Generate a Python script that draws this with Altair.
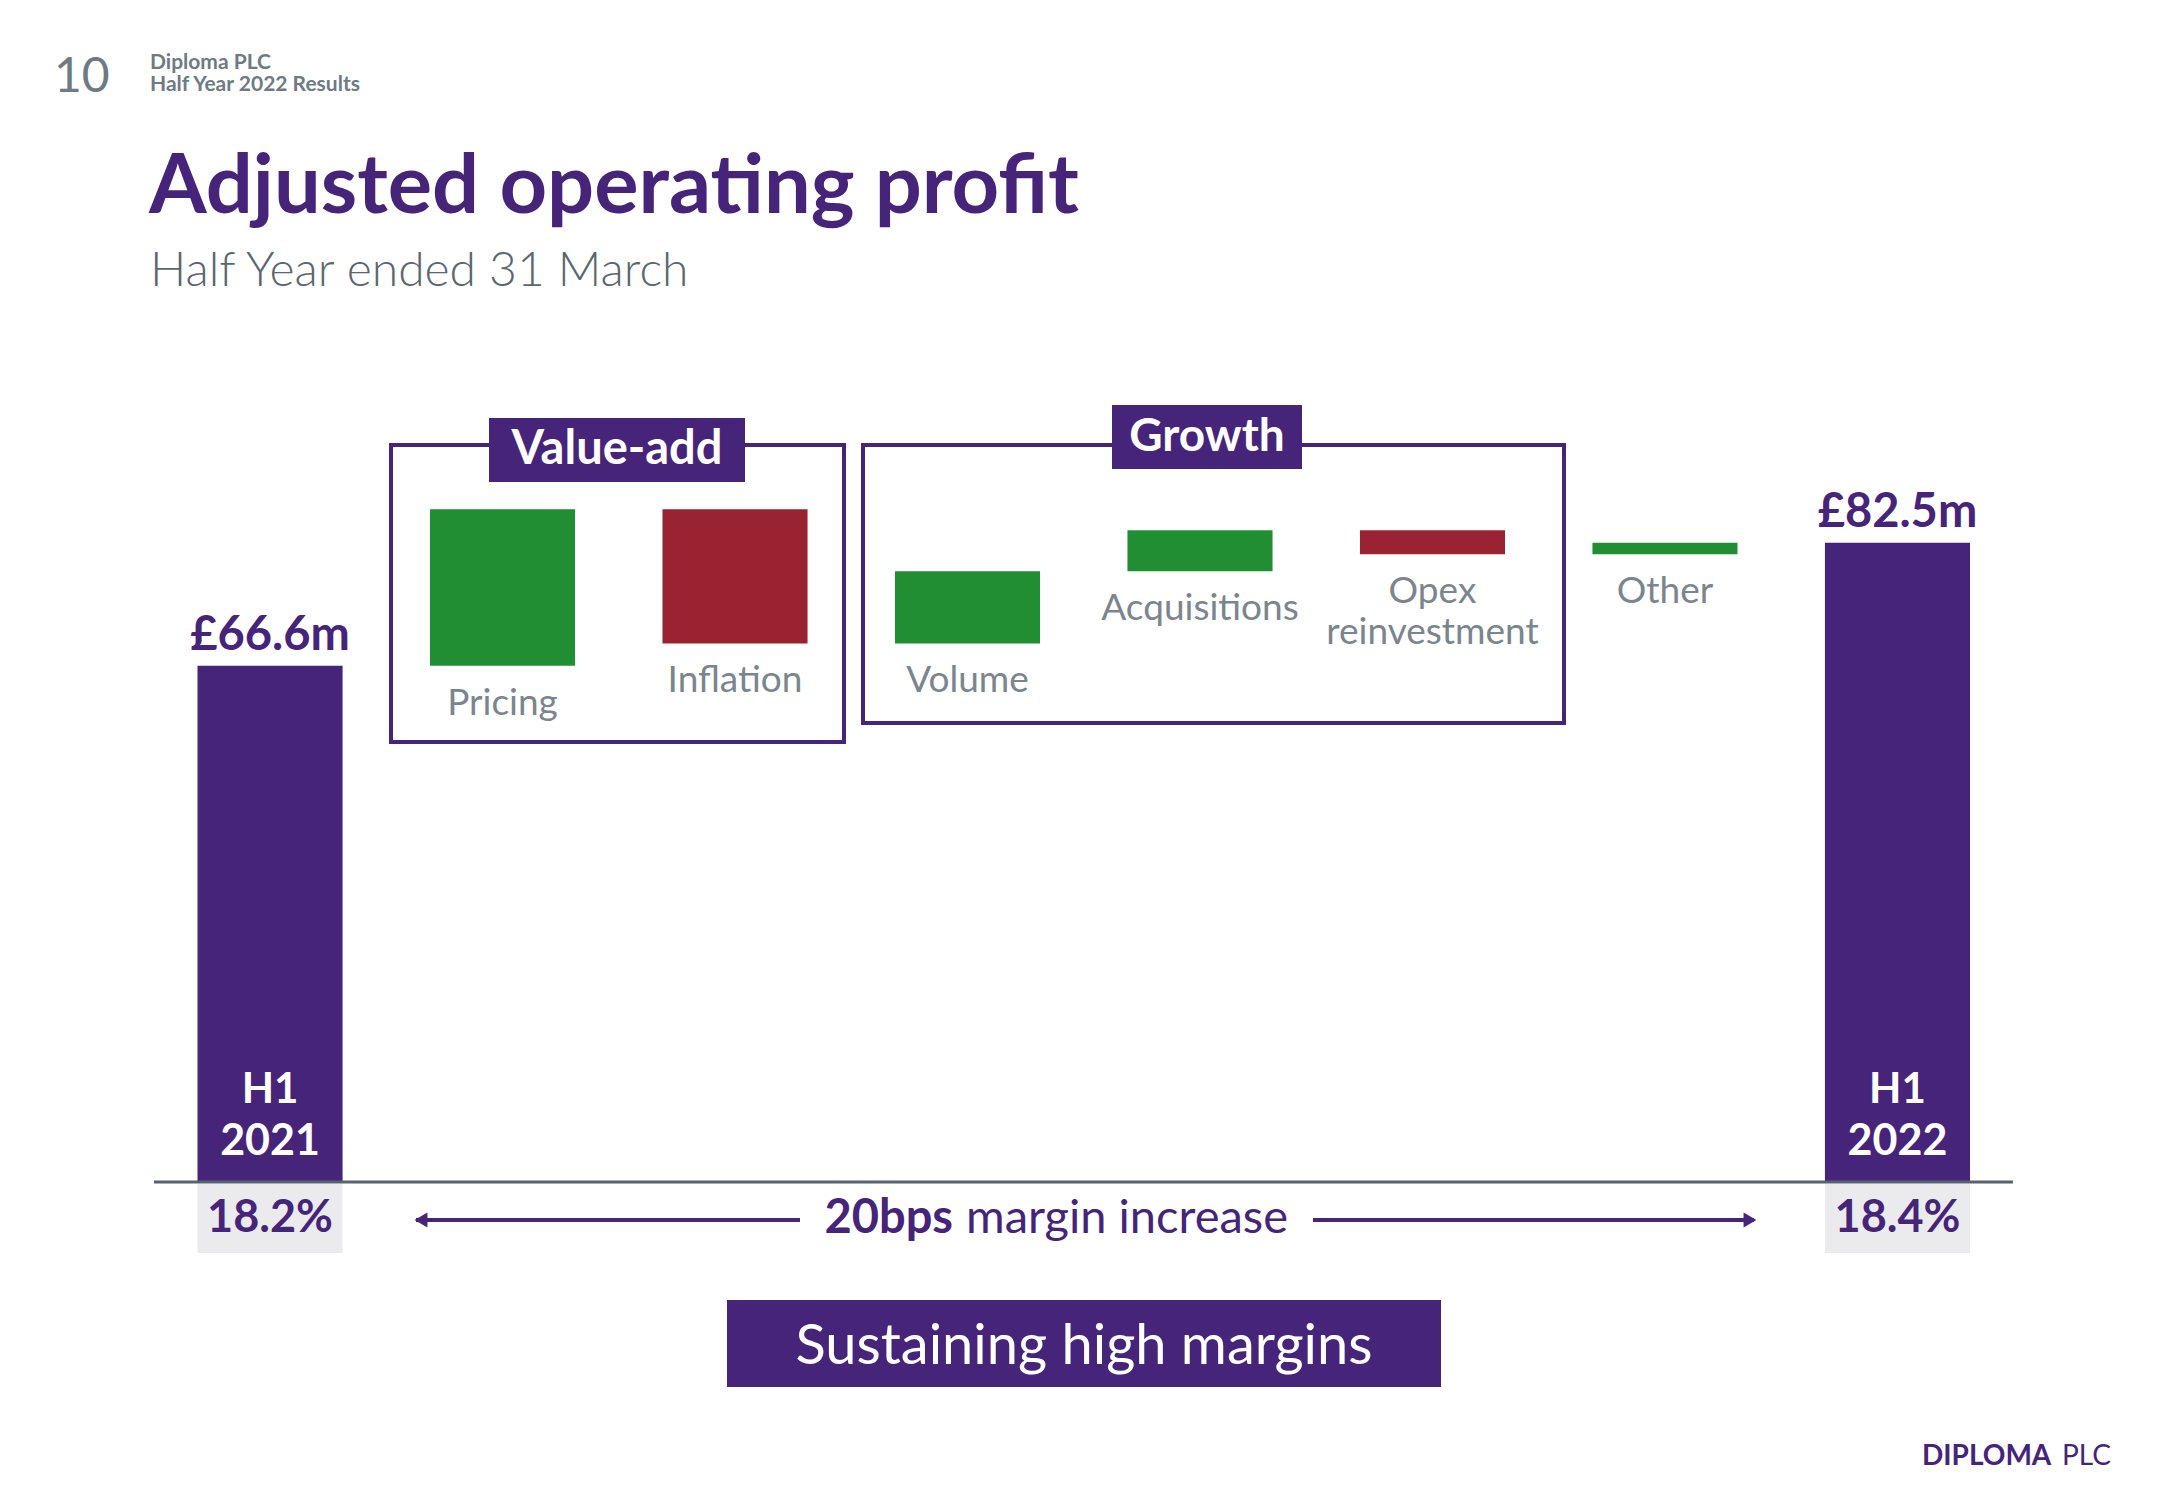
import altair as alt
import pandas as pd

PURPLE = "#45247A"
GREEN = "#228E33"
RED = "#9A2331"
GREY_TXT = "#7A858E"
HEAD_GREY = "#6E7A84"
FONT = "Lato"

# ---------------- data ----------------
steps = ["H1 2021", "Pricing", "Inflation", "Volume", "Acquisitions",
         "Opex reinvestment", "Other", "H1 2022"]
step_labels = ["Pricing", "Inflation", "Volume", "Acquisitions",
               "Opex\nreinvestment", "Other"]
opening = 66.6
changes = [20.2, -17.3, 9.3, 5.3, -3.1, 1.5]
closing = 82.5
total_labels = ["£66.6m", "£82.5m"]
period_h = ["H1", "H1"]
period_year = ["2021", "2022"]
margins = ["18.2%", "18.4%"]

rows = [dict(step=steps[0], start=0.0, end=opening, kind="total", label="")]
level = opening
for name, lab, d in zip(steps[1:-1], step_labels, changes):
    rows.append(dict(step=name, start=level, end=level + d,
                     kind="up" if d > 0 else "down", label=lab))
    level += d
rows.append(dict(step=steps[-1], start=0.0, end=closing, kind="total", label=""))
df = pd.DataFrame(rows)
df["low"] = df[["start", "end"]].min(axis=1)
delta_df = df[df["kind"] != "total"].copy()

tot_df = pd.DataFrame(dict(step=[steps[0], steps[-1]], value=[opening, closing],
                           label=total_labels, h=period_h, year=period_year,
                           margin=margins))

# ---------------- scales ----------------
xscale = alt.Scale(domain=steps, range=[197.5, 1970], paddingInner=0.376, paddingOuter=0)
yscale = alt.Scale(domain=[0, 100], range=[1182, 407], nice=False, zero=False)
X = alt.X("step:N", scale=xscale, axis=None)


def txt(text, x, y, size, color, weight="normal", align="left"):
    return alt.Chart(pd.DataFrame({"t": [text]})).mark_text(
        font=FONT, fontSize=size, color=color, fontWeight=weight,
        align=align, baseline="alphabetic"
    ).encode(text="t:N", x=alt.value(x), y=alt.value(y))


def box(x1, x2, y1, y2, filled, color=PURPLE, sw=4):
    return alt.Chart(pd.DataFrame({"a": [0]})).mark_rect(
        filled=filled, color=color, strokeWidth=sw
    ).encode(x=alt.value(x1), x2=alt.value(x2), y=alt.value(y1), y2=alt.value(y2))


# group boxes
grp_boxes = [
    box(391, 844, 445, 742, False),
    box(863, 1564, 445, 723, False),
    box(489, 745, 418, 482, True),
    box(1112, 1302, 405, 469, True),
    box(727, 1441, 1300, 1387, True),
]
grp_texts = [
    txt("Value-add", 617, 464, 47, "white", "bold", "center"),
    txt("Growth", 1207, 451, 46, "white", "bold", "center"),
    txt("Sustaining high margins", 1084, 1364, 56, "white", "normal", "center"),
]

bars = alt.Chart(df).mark_bar().encode(
    x=X,
    y=alt.Y("start:Q", scale=yscale, axis=None),
    y2="end:Q",
    color=alt.Color("kind:N", scale=alt.Scale(domain=["total", "up", "down"],
                                              range=[PURPLE, GREEN, RED]), legend=None),
)

cat_text = alt.Chart(delta_df).mark_text(
    font=FONT, fontSize=37, color=GREY_TXT, baseline="alphabetic", dy=49,
    lineBreak="\n", lineHeight=41
).encode(x=X, y=alt.Y("low:Q", scale=yscale, axis=None), text="label:N")

grey_under = alt.Chart(tot_df).mark_bar(color="#EBEBED").encode(
    x=X, y=alt.value(1184), y2=alt.value(1253))

val_text = alt.Chart(tot_df).mark_text(
    font=FONT, fontSize=47, fontWeight="bold", color=PURPLE, baseline="alphabetic", dy=-16
).encode(x=X, y=alt.Y("value:Q", scale=yscale, axis=None), text="label:N")

h_text = alt.Chart(tot_df).mark_text(
    font=FONT, fontSize=42, fontWeight="bold", color="white", baseline="alphabetic"
).encode(x=X, y=alt.value(1103), text="h:N")
yr_text = alt.Chart(tot_df).mark_text(
    font=FONT, fontSize=43, fontWeight="bold", color="white", baseline="alphabetic"
).encode(x=X, y=alt.value(1155), text="year:N")
mg_text = alt.Chart(tot_df).mark_text(
    font=FONT, fontSize=45, fontWeight="bold", color=PURPLE, baseline="alphabetic"
).encode(x=X, y=alt.value(1232), text="margin:N")

axis_line = alt.Chart(pd.DataFrame({"v": [0]})).mark_rule(
    color="#56636F", strokeWidth=3
).encode(x=alt.value(154), x2=alt.value(2013), y=alt.Y("v:Q", scale=yscale, axis=None))

arrow_df = pd.DataFrame({"x1": [416, 1313], "x2": [800, 1754]})
arrow_lines = alt.Chart(arrow_df).mark_rule(color=PURPLE, strokeWidth=4).encode(
    x=alt.X("x1:Q", scale=None), x2="x2:Q", y=alt.value(1220))
head_l = alt.Chart(pd.DataFrame({"a": [0]})).mark_point(
    shape="triangle-left", filled=True, color=PURPLE, size=220, opacity=1
).encode(x=alt.value(421), y=alt.value(1220))
head_r = alt.Chart(pd.DataFrame({"a": [0]})).mark_point(
    shape="triangle-right", filled=True, color=PURPLE, size=220, opacity=1
).encode(x=alt.value(1750), y=alt.value(1220))

margin_txt = [
    txt("20bps", 953, 1233, 47, PURPLE, "bold", "right"),
    txt("margin increase", 966, 1233, 47, PURPLE, "normal", "left"),
]

header = [
    txt("10", 54, 92, 48, HEAD_GREY, "normal"),
    txt("Diploma PLC", 150, 69, 21, HEAD_GREY, "bold"),
    txt("Half Year 2022 Results", 150, 91, 21, HEAD_GREY, "bold"),
    txt("Adjusted operating profit", 149, 213, 83, PURPLE, "bold"),
    txt("Half Year ended 31 March", 150, 286, 48, "#5A6670", 300),
    txt("DIPLOMA", 1922, 1465, 28, PURPLE, "bold"),
    txt("PLC", 2062, 1465, 28, PURPLE, "normal"),
]

chart = alt.layer(
    *grp_boxes[:2], grey_under, bars, axis_line, *grp_boxes[2:], *grp_texts,
    cat_text, val_text, h_text, yr_text, mg_text,
    arrow_lines, head_l, head_r, *margin_txt, *header
).properties(
    width=2166, height=1500, padding=0,
    autosize=alt.AutoSizeParams(type="none"),
    background="white",
).configure_view(stroke=None)

chart.save("out.html", embed_options={"renderer": "svg", "actions": False})
